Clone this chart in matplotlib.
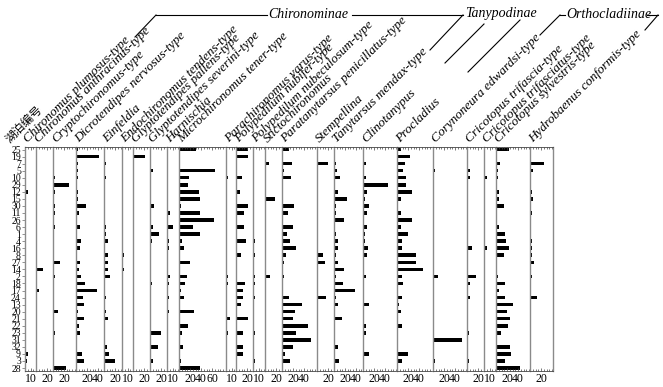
import matplotlib
matplotlib.use('Agg')
import matplotlib.pyplot as plt
from matplotlib.lines import Line2D
from matplotlib.ticker import MultipleLocator

W, H = 663, 387

lakes = ['25', '19', '7', '5', '10', '29', '12', '15', '30', '11', '26', '6', '1', '4', '16', '8',
         '27', '14', '2', '18', '17', '24', '13', '20', '21', '22', '23', '31', '32', '9', '3', '28']

taxa = ['Chironomus plumosus-type', 'Chironomus anthracinus-type', 'Cryptochironomus-type',
        'Dicrotendipes nervosus-type', 'Einfeldia', 'Endochironomus tendens-type',
        'Glyptotendipes pallens-type', 'Glyptotendipes severini-type', 'Harnischia',
        'Microchironomus tener-type', 'Parachironomus varus-type', 'Polypedilum nubifer-type',
        'Polypedilum nubeculosum-type', 'Stictochironomus', 'Paratanytarsus penicillatus-type',
        'Stempellina', 'Tanytarsus mendax-type', 'Clinotanypus', 'Procladius',
        'Corynoneura edwardsi-type', 'Cricotopus trifascia-type', 'Cricotopus trifasciatus-type',
        'Cricotopus sylvestris-type', 'Hydrobaenus conformis-type']

# percentages per lake (rows in order of `lakes`)
c_plumosus = [0, 0, 0, 1, 0, 0, 6, 1, 0, 0, 0, 0, 0, 0, 0, 0,
              0, 2.5, 0, 0, 2.5, 0, 0, 0, 0, 0, 0, 0, 1, 5.5, 4, 0]
c_anthracinus = [0, 0, 0, 0, 0, 0, 0, 0, 0, 0, 0, 0, 0, 0, 0, 0,
                 0, 12, 0, 0, 5, 0, 0, 0, 0, 0, 0, 0, 0, 0, 0, 0]
cryptochironomus = [0, 0, 0, 0, 4, 30, 4, 0, 3.5, 3, 0, 4, 0, 0, 0, 1,
                    13, 0, 4, 0, 0, 0, 0, 9, 0, 1, 4, 0, 1, 1, 1, 24]
dicrotendipes = [4, 42, 4, 4, 3, 0, 4, 4, 18, 6, 0, 7, 2.5, 9, 7, 1,
                 7, 6, 9, 16, 38, 13, 14, 4, 14, 5.5, 7, 0, 0, 11, 14.5, 0]
einfeldia = [0, 0, 3, 0, 4, 0, 0, 0, 0, 0, 0, 3, 3, 7, 0, 7,
             7, 7, 10, 0, 0, 3, 0, 3, 8, 0, 0, 0, 6, 9, 20.5, 0]
endochironomus = [0, 0, 0, 1, 0, 0, 0, 0, 0, 0, 0, 0, 0, 0, 0, 3,
                  0, 4, 0, 0, 0, 0, 2, 0, 0, 0, 0, 0, 2, 0, 0, 0]
g_pallens = [0, 21, 0, 0, 0, 0, 0, 0, 0, 0, 0, 0, 0, 1, 0, 0,
             0, 1, 0, 0, 0, 0, 0, 1, 0, 0, 0, 0, 0, 0, 0, 0]
g_severini = [0, 0, 0, 5, 1, 0, 1, 0, 8, 0, 0, 5, 16, 3.5, 0, 1,
              0, 0, 0, 3.5, 0, 0, 1, 0, 0, 0, 20, 0, 14.5, 2.5, 6, 0]
harnischia = [1, 0, 0, 0, 0, 0, 1, 0, 0, 5, 0, 10, 0, 4, 3, 0,
              0, 0, 6, 4, 0, 3, 0, 3, 0, 0, 0, 0, 0, 0, 0, 0]
microchironomus = [31, 0, 0, 65, 18, 16, 36, 38, 3.5, 39, 63, 25, 39, 5, 8.5, 1,
                   19.5, 1, 14.5, 11.5, 4, 8.5, 0, 27, 0, 16, 6, 0, 6.5, 0, 3, 38]
parachironomus = [0, 0, 0, 0, 3, 0, 0, 0, 0, 1, 0, 0, 0, 1, 0, 0,
                  0, 0, 3, 3, 0, 0, 0, 0, 7, 1, 3, 0, 1, 0, 1, 0]
p_nubifer = [22, 22, 0, 1, 11.5, 0, 7, 1, 22, 15, 0, 14.5, 0, 18, 1, 9,
             0, 0, 1, 16, 12, 12, 8.5, 1, 22, 1, 12, 0, 12, 13, 1, 0]
p_nubeculosum = [0, 0, 0, 0, 0, 0, 0, 0, 0, 1, 0, 0, 0, 3.5, 0, 3.5,
                 0, 0, 3.5, 3.5, 0, 3.5, 0, 0, 0, 0, 3.5, 0, 0, 0, 3, 0]
stictochironomus = [0, 0, 7, 0, 0, 0, 0, 18, 2, 0, 0, 0, 0, 0, 0, 0,
                    0, 0, 9, 0, 0, 0, 0, 0, 0, 0, 2, 0, 0, 0, 0, 0]
paratanytarsus = [12, 0, 18, 3.5, 16, 0, 0, 0, 21, 11.5, 0, 20.5, 9, 14, 25.5, 8,
                  3, 0, 3, 1, 0, 12.5, 37, 23, 20.5, 47, 26, 53, 20, 6, 15, 0]
stempellina = [0, 0, 19.5, 0, 0, 0, 2, 0, 0, 2.5, 0, 0, 0, 1, 0, 11,
               14, 0, 1, 0, 0, 17, 0, 0, 0, 0, 0, 0, 2.5, 0, 1, 0]
tanytarsus = [0, 0, 3, 6, 10, 0, 7, 24, 4, 4, 18, 0, 4, 7, 7, 4,
              7, 19, 4, 17, 39, 4, 7, 0, 14, 2, 0, 0, 7, 0, 8.5, 0]
clinotanypus = [1, 0, 6, 0, 6, 45, 7, 3, 10, 7, 0, 6.5, 4.5, 4.5, 8.5, 6.5,
                2, 1, 6, 0, 0, 2.5, 11, 2.5, 0, 6, 6, 0, 2.5, 11, 2.5, 0]
procladius = [6.5, 23, 14, 11.5, 17, 16, 27, 8, 1, 8, 28, 8, 19.5, 9.5, 9.5, 35,
              34, 48, 9, 11.5, 0, 9, 3, 7, 0, 9, 0, 0, 0, 20, 8.5, 0]
corynoneura = [0, 0, 0, 3.5, 0, 0, 0, 0, 0, 0, 0, 0, 0, 1, 0, 0,
               0, 0, 8.5, 1, 0, 1, 0, 0, 0, 0, 1, 53, 0, 1, 3.5, 0]
c_trifascia = [0, 0, 0, 6, 6, 0, 0, 0, 0, 0, 0, 0, 0, 1, 9, 0,
               0, 0, 16, 5.5, 0, 5, 0, 0, 0, 0, 3.5, 0, 0, 0, 3, 0]
c_trifasciatus = [0, 0, 1, 0, 6, 0, 0, 0, 0, 0, 0, 1, 0, 0, 6, 0,
                  0, 0, 0, 1, 0, 0, 1, 0, 0, 0, 0, 0, 0, 0, 0, 0]
c_sylvestris = [24, 0, 8, 3.5, 3.5, 0, 5, 6, 15, 1, 0, 5.5, 16, 17.5, 24, 15,
                0, 1, 3.5, 16.5, 5, 17, 31, 19.5, 25, 22, 9, 0, 26, 28, 17, 44]
hydrobaenus = [0, 0, 26, 5, 0, 0, 3, 6, 0, 3, 0, 0, 0, 3, 4, 3,
               8, 0, 3, 0, 2.5, 12, 0, 0, 0, 0, 2.5, 0, 0, 0, 0, 0]

series = [c_plumosus, c_anthracinus, cryptochironomus, dicrotendipes, einfeldia, endochironomus,
          g_pallens, g_severini, harnischia, microchironomus, parachironomus, p_nubifer,
          p_nubeculosum, stictochironomus, paratanytarsus, stempellina, tanytarsus,
          clinotanypus, procladius, corynoneura, c_trifascia, c_trifasciatus, c_sylvestris,
          hydrobaenus]

tick_values = [[10], [20], [20], [20, 40], [20], [10], [20], [20], [10], [20, 40, 60],
               [10], [20], [10], [20], [20, 40], [20], [20, 40], [20, 40], [20, 40], [20, 40],
               [20], [10], [20, 40], [20]]

# layout (pixels)
axis_x = [25, 36, 53, 76, 104, 122, 133, 150, 167, 179, 226, 236, 253, 265, 282, 317,
          334, 363, 397, 433, 467, 484, 496, 530]
END_X = 553
S = 0.55  # pixels per percent
TOP, BOT = 147, 371
R0, PITCH = 149.5, 7.05

SERIF = 'Liberation Serif'
fig = plt.figure(figsize=(W / 100, H / 100), dpi=100)
n = len(lakes)
y_top = -(R0 - TOP) / PITCH
y_bot = (BOT - R0) / PITCH

for i, (name, vals) in enumerate(zip(taxa, series)):
    x0 = axis_x[i]
    last = i == len(taxa) - 1
    x1 = END_X if last else axis_x[i + 1] - 1
    w = x1 - x0
    ax = fig.add_axes([x0 / W, 1 - BOT / H, w / W, (BOT - TOP) / H])
    ax.set_xlim(0, w / S)
    ax.set_ylim(y_bot, y_top)
    ax.barh(range(n), vals, height=0.5, color='black', linewidth=0)
    ax.patch.set_alpha(0)
    for sp in ['top', 'bottom']:
        ax.spines[sp].set_linewidth(0.6)
        ax.spines[sp].set_color('#444444')
    ax.spines['left'].set_color('#8a8a8a')
    ax.spines['left'].set_linewidth(1.0)
    if last:
        ax.spines['right'].set_color('#8a8a8a')
        ax.spines['right'].set_linewidth(1.0)
    else:
        ax.spines['right'].set_visible(False)
    ax.set_xticks(tick_values[i])
    ax.set_xticklabels([str(t) for t in tick_values[i]], fontsize=8.5, family=SERIF)
    ax.xaxis.set_minor_locator(MultipleLocator(5))
    ax.tick_params(axis='x', which='major', direction='in', length=2.5, width=0.5,
                   pad=1.5, top=True, bottom=True, color='#444444')
    ax.tick_params(axis='x', which='minor', direction='in', length=1.5, width=0.5,
                   top=True, bottom=True, color='#444444')
    if i == 0:
        ax.set_yticks(range(n))
        ax.set_yticklabels(lakes, fontsize=7, family=SERIF)
        ax.tick_params(axis='y', direction='out', length=2, width=0.5, pad=1,
                       color='#666666')
    else:
        ax.set_yticks([])
    fig.text((x0 + 3) / W, 1 - 143 / H, name, rotation=45, rotation_mode='anchor',
             ha='left', va='baseline', fontsize=9.5, style='italic', family=SERIF)

fig.text(10 / W, 1 - 143 / H, '湖泊编号', rotation=45, rotation_mode='anchor',
         ha='left', va='baseline', fontsize=8.5, family=['Noto Sans CJK SC', 'DejaVu Sans'])


def fl(x1, y1, x2, y2):
    fig.add_artist(Line2D([x1 / W, x2 / W], [1 - y1 / H, 1 - y2 / H],
                          transform=fig.transFigure, color='black', lw=0.8))


def gt(x, y, s, ha='center'):
    fig.text(x / W, 1 - y / H, s, ha=ha, va='center', fontsize=10, style='italic',
             family=SERIF)


# Chironominae
fl(135, 37, 156, 15)
fl(156, 15, 267, 15)
gt(308, 15, 'Chironominae')
fl(352, 15, 463, 15)
fl(463, 15, 430, 50)
# Tanypodinae
gt(501, 14, 'Tanypodinae')
fl(445, 63, 484, 24)
fl(468, 72, 520, 20)
# Orthocladiinae
fl(540, 35, 560, 15)
fl(560, 15, 565, 15)
gt(566, 15, 'Orthocladiinae', ha='left')
fl(647, 15, 658, 15)
fl(658, 15, 645, 30)

fig.savefig('out.png', dpi=100)
